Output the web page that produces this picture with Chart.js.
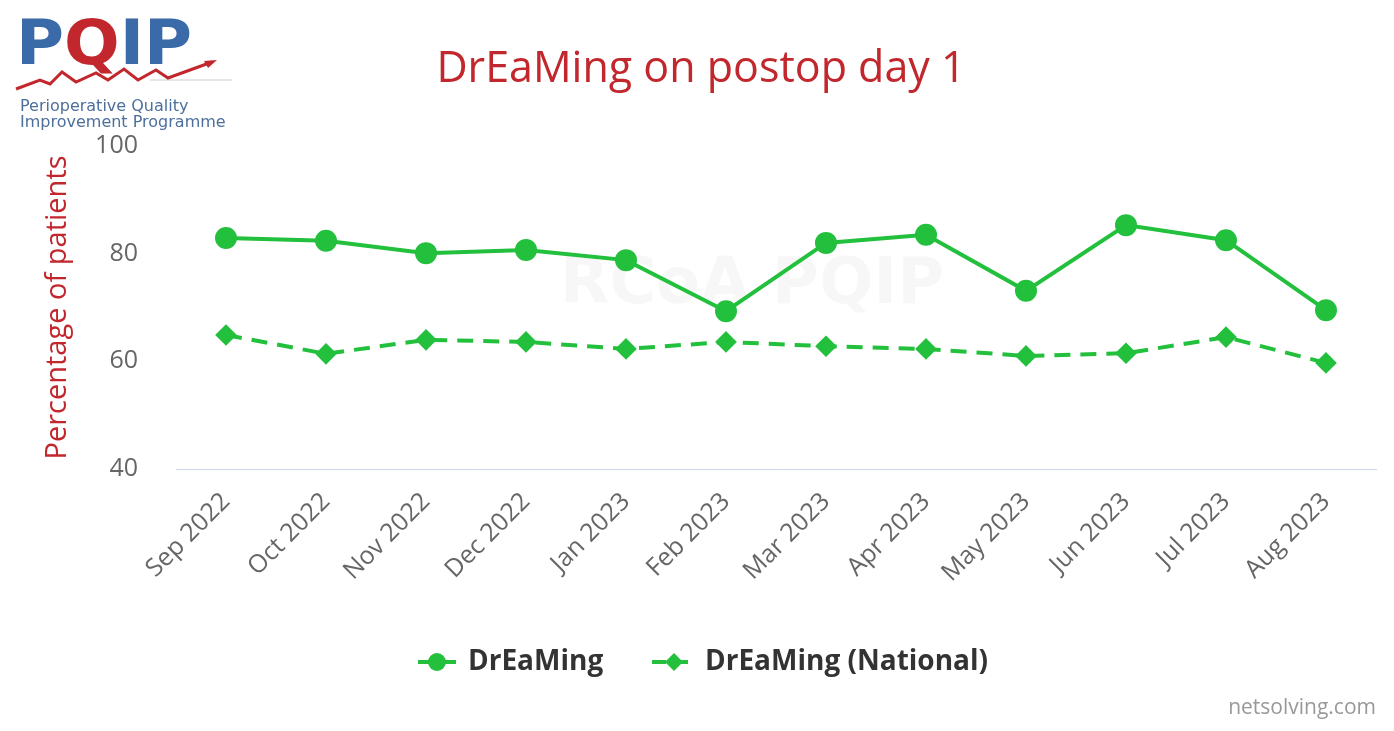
<!DOCTYPE html>
<html>
<head>
<meta charset="utf-8">
<script src="https://cdn.jsdelivr.net/npm/chart.js@4/dist/chart.umd.min.js"></script>
<style>
  html, body { margin: 0; padding: 0; background: #fff; }
  #wrap { position: relative; width: 1394px; height: 731px; }
</style>
</head>
<body>
<div id="wrap"><canvas id="line" width="1394" height="731"></canvas></div>
<script>
// data
var months = ["Sep 2022", "Oct 2022", "Nov 2022", "Dec 2022", "Jan 2023", "Feb 2023",
              "Mar 2023", "Apr 2023", "May 2023", "Jun 2023", "Jul 2023", "Aug 2023"];
var localValues    = [82.9, 82.4, 80.1, 80.7, 78.8, 69.3, 82.0, 83.5, 73.1, 85.3, 82.5, 69.5];
var nationalValues = [64.9, 61.4, 64.0, 63.6, 62.3, 63.6, 62.8, 62.3, 61.0, 61.5, 64.5, 59.7];
var yTicks = [40, 60, 80, 100];

var green = "#22c03c";
var red = "#c1272d";
var blue = "#3a6aa8";

// logo, title, watermark, legend and credits
var extras = {
  id: "extras",
  beforeDatasetsDraw: function (chart) {
    var ctx = chart.ctx;
    ctx.save();
    ctx.fillStyle = "rgba(0,0,0,0.03)";
    ctx.font = "bold 64px 'DejaVu Sans'";
    ctx.textAlign = "center";
    ctx.textBaseline = "middle";
    ctx.fillText("RCoA PQIP", 752, 286);
    ctx.restore();
  },
  afterDraw: function (chart) {
    var ctx = chart.ctx;
    ctx.save();

    // title
    ctx.fillStyle = red;
    ctx.font = "43px 'Open Sans'";
    ctx.textAlign = "center";
    ctx.textBaseline = "middle";
    ctx.fillText("DrEaMing on postop day 1", 701, 70);

    // logo
    ctx.font = "bold 66px 'DejaVu Sans'";
    ctx.textAlign = "left";
    ctx.textBaseline = "alphabetic";
    var letters = [["P", blue], ["Q", red], ["I", blue], ["P", blue]];
    var total = 0;
    letters.forEach(function (l) { total += ctx.measureText(l[0]).width; });
    ctx.save();
    ctx.translate(16, 64);
    ctx.scale(176 / total, 0.95);
    var x = 0;
    letters.forEach(function (l) {
      ctx.fillStyle = l[1];
      ctx.fillText(l[0], x, 0);
      x += ctx.measureText(l[0]).width;
    });
    ctx.restore();

    ctx.strokeStyle = "#cccccc";
    ctx.lineWidth = 1;
    ctx.beginPath();
    ctx.moveTo(150, 80);
    ctx.lineTo(232, 80);
    ctx.stroke();

    ctx.strokeStyle = red;
    ctx.lineWidth = 3;
    ctx.beginPath();
    var zig = [[16, 89], [40, 80], [50, 84], [62, 72], [76, 82], [96, 73], [108, 80], [124, 69], [138, 80], [156, 70], [168, 78], [212, 62]];
    zig.forEach(function (p, i) { if (i === 0) ctx.moveTo(p[0], p[1]); else ctx.lineTo(p[0], p[1]); });
    ctx.stroke();
    ctx.fillStyle = red;
    ctx.beginPath();
    ctx.moveTo(217, 60);
    ctx.lineTo(204, 61);
    ctx.lineTo(208, 68);
    ctx.closePath();
    ctx.fill();

    ctx.fillStyle = "#4d6f9c";
    ctx.font = "16px 'DejaVu Sans'";
    ctx.fillText("Perioperative Quality", 20, 111);
    ctx.fillText("Improvement Programme", 20, 127);

    // legend
    ctx.lineWidth = 4;
    ctx.strokeStyle = green;
    ctx.fillStyle = green;
    ctx.beginPath();
    ctx.moveTo(418, 662); ctx.lineTo(456, 662);
    ctx.stroke();
    ctx.beginPath();
    ctx.arc(437, 662, 9, 0, Math.PI * 2);
    ctx.fill();

    ctx.setLineDash([14, 8]);
    ctx.beginPath();
    ctx.moveTo(652, 662); ctx.lineTo(692, 662);
    ctx.stroke();
    ctx.setLineDash([]);
    ctx.beginPath();
    ctx.moveTo(674, 653); ctx.lineTo(683, 662); ctx.lineTo(674, 671); ctx.lineTo(665, 662);
    ctx.closePath();
    ctx.fill();

    ctx.fillStyle = "#333333";
    ctx.font = "bold 28px 'Open Sans'";
    ctx.textBaseline = "middle";
    ctx.fillText("DrEaMing", 468, 662);
    ctx.fillText("DrEaMing (National)", 705, 662);

    // credits
    ctx.fillStyle = "#999999";
    ctx.font = "21px 'Open Sans'";
    ctx.textAlign = "right";
    ctx.fillText("netsolving.com", 1376, 708);

    ctx.restore();
  }
};

new Chart("line", {
  type: "line",
  data: {
    labels: months,
    datasets: [
      {
        label: "DrEaMing",
        data: localValues,
        borderColor: green,
        backgroundColor: green,
        borderWidth: 4,
        pointStyle: "circle",
        pointRadius: 9,
        pointHoverRadius: 9,
        fill: false,
        tension: 0
      },
      {
        label: "DrEaMing (National)",
        data: nationalValues,
        borderColor: green,
        backgroundColor: green,
        borderWidth: 4,
        borderDash: [16, 10],
        pointStyle: "rectRot",
        pointRadius: 8,
        pointHoverRadius: 8,
        fill: false,
        tension: 0
      }
    ]
  },
  options: {
    responsive: false,
    animation: false,
    layout: { padding: { top: 146, left: 0, right: 18, bottom: 0 } },
    plugins: {
      legend: { display: false },
      title: { display: false },
      tooltip: { enabled: false }
    },
    scales: {
      x: {
        offset: true,
        grid: { display: false, drawTicks: false, offset: true },
        border: { display: true, color: "#ccd6eb", width: 1 },
        ticks: {
          color: "#666666",
          font: { family: "'Open Sans'", size: 25 },
          minRotation: 45,
          maxRotation: 45,
          padding: 18,
          autoSkip: false
        },
        afterFit: function (scale) { scale.height = 262; }
      },
      y: {
        min: 40,
        max: 100,
        afterBuildTicks: function (scale) {
          scale.ticks = yTicks.map(function (v) { return { value: v }; });
        },
        grid: { display: false, drawTicks: false },
        border: { display: false },
        ticks: {
          color: "#666666",
          font: { family: "'Open Sans'", size: 25 },
          padding: 38
        },
        title: {
          display: true,
          text: "Percentage of patients",
          color: red,
          font: { family: "'Open Sans'", size: 29 },
          padding: { top: 40, bottom: 0 }
        },
        afterFit: function (scale) { scale.width = 176; }
      }
    }
  },
  plugins: [extras]
});
</script>
</body>
</html>
